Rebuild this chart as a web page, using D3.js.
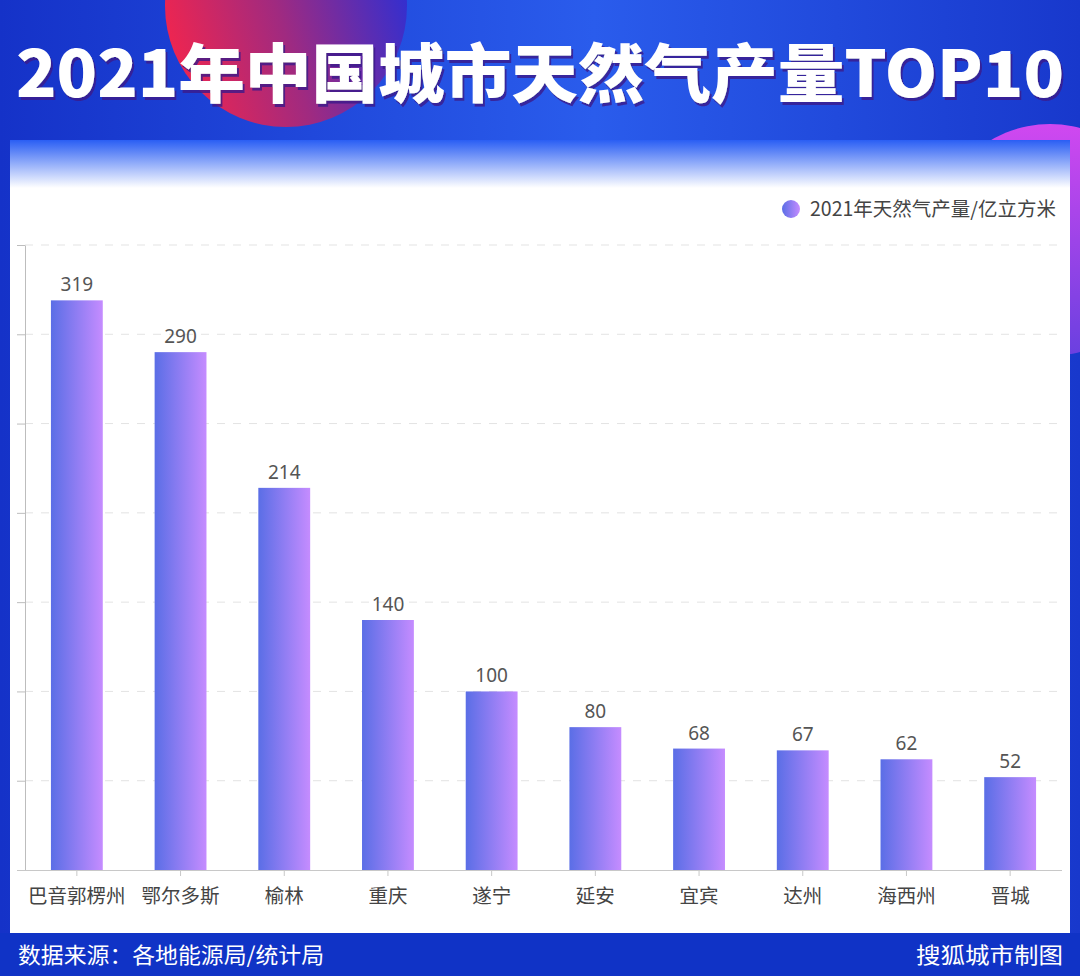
<!DOCTYPE html>
<html><head><meta charset="utf-8">
<script src="https://cdn.jsdelivr.net/npm/d3@7"></script>
<style>html,body{margin:0;padding:0;background:#1434c6;}svg{display:block;}</style>
</head><body>
<script>
const categories = ["巴音郭楞州","鄂尔多斯","榆林","重庆","遂宁","延安","宜宾","达州","海西州","晋城"];
const values = [319,290,214,140,100,80,68,67,62,52];
const yTicks = [0,50,100,150,200,250,300,350];
const title = "2021年中国城市天然气产量TOP10";
const legendLabel = "2021年天然气产量/亿立方米";
const sourceText = "数据来源：各地能源局/统计局";
const creditText = "搜狐城市制图";

(function(){
const W = 1080, H = 976;
const svg = d3.select("body").append("svg").attr("width", W).attr("height", H);
const defs = svg.append("defs");

const bg = defs.append("linearGradient").attr("id","bg").attr("x1",0).attr("y1",0).attr("x2",1).attr("y2",0);
bg.append("stop").attr("offset","0").attr("stop-color","#1532c8");
bg.append("stop").attr("offset","0.55").attr("stop-color","#2a5cec");
bg.append("stop").attr("offset","1").attr("stop-color","#1838cc");

const red = defs.append("linearGradient").attr("id","redc").attr("x1",0).attr("y1",0.6).attr("x2",1).attr("y2",0.3);
red.append("stop").attr("offset","0").attr("stop-color","#ee2550");
red.append("stop").attr("offset","0.45").attr("stop-color","#a02a80");
red.append("stop").attr("offset","1").attr("stop-color","#2a2fd6");

const mag = defs.append("linearGradient").attr("id","magc").attr("x1",0).attr("y1",0).attr("x2",0).attr("y2",1);
mag.append("stop").attr("offset","0").attr("stop-color","#d048f0");
mag.append("stop").attr("offset","1").attr("stop-color","#6a40e0");

const panelTop = defs.append("linearGradient").attr("id","ptop").attr("x1",0).attr("y1",0).attr("x2",0).attr("y2",1);
panelTop.append("stop").attr("offset","0").attr("stop-color","#2a5ef4");
panelTop.append("stop").attr("offset","1").attr("stop-color","#ffffff");

const barG = defs.append("linearGradient").attr("id","barg").attr("x1",0).attr("y1",0).attr("x2",1).attr("y2",0);
barG.append("stop").attr("offset","0").attr("stop-color","#5a6ee6");
barG.append("stop").attr("offset","1").attr("stop-color","#c58cff");

const shadow = defs.append("filter").attr("id","tshadow").attr("x","-5%").attr("y","-20%").attr("width","110%").attr("height","150%");
shadow.append("feDropShadow").attr("dx",2).attr("dy",3).attr("stdDeviation",0.5).attr("flood-color","#3a1f8a").attr("flood-opacity",0.8);

// background
svg.append("rect").attr("width",W).attr("height",H).attr("fill","url(#bg)");
svg.append("circle").attr("cx",286).attr("cy",6).attr("r",121).attr("fill","url(#redc)");
svg.append("circle").attr("cx",1050).attr("cy",240).attr("r",116).attr("fill","url(#magc)");
svg.append("rect").attr("x",0).attr("y",933).attr("width",W).attr("height",43).attr("fill","#1033c6");

// title
svg.append("text").attr("x",540).attr("y",97).attr("text-anchor","middle")
  .attr("font-family","'Noto Sans CJK SC', sans-serif").attr("font-weight",900)
  .attr("font-size",64).attr("fill","#ffffff").attr("filter","url(#tshadow)")
  .attr("textLength",1048).attr("lengthAdjust","spacingAndGlyphs")
  .text(title);

// panel
svg.append("rect").attr("x",10).attr("y",140).attr("width",1060).attr("height",793).attr("fill","#ffffff");
svg.append("rect").attr("x",10).attr("y",140).attr("width",1060).attr("height",48).attr("fill","url(#ptop)");

// footer text
svg.append("text").attr("x",18).attr("y",963).attr("font-family","'Noto Sans CJK SC', sans-serif")
  .attr("font-size",22).attr("fill","#ffffff").attr("textLength",306).attr("lengthAdjust","spacingAndGlyphs").text(sourceText);
svg.append("text").attr("x",1063).attr("y",963).attr("text-anchor","end").attr("font-family","'Noto Sans CJK SC', sans-serif")
  .attr("font-size",22).attr("fill","#ffffff").attr("textLength",147).attr("lengthAdjust","spacingAndGlyphs").text(creditText);

// legend
svg.append("circle").attr("cx",791).attr("cy",209).attr("r",9).attr("fill","url(#barg)");
svg.append("text").attr("x",810).attr("y",216).attr("font-family","'Noto Sans CJK SC', sans-serif")
  .attr("font-size",19.5).attr("fill","#444").text(legendLabel);

// chart
const mL = 25, mR = 1062, mT = 245, mB = 870;
const x = d3.scaleBand().domain(categories).range([mL,mR]).paddingInner(0.5).paddingOuter(0.25);
const y = d3.scaleLinear().domain([0,350]).range([mB,mT]);

// grid
svg.append("g").selectAll("line").data(yTicks.filter(t=>t>0)).join("line")
  .attr("x1",mL).attr("x2",mR).attr("y1",d=>y(d)).attr("y2",d=>y(d))
  .attr("stroke","#e3e3e3").attr("stroke-width",1).attr("stroke-dasharray","8,8");

// y axis
const yAxis = svg.append("g").attr("transform",`translate(${mL},0)`)
  .call(d3.axisLeft(y).tickValues(yTicks).tickSize(8).tickSizeOuter(0).tickFormat(""));
yAxis.selectAll("path,line").attr("stroke","#bdbdbd");

// x axis
const xAxis = svg.append("g").attr("transform",`translate(0,${mB})`)
  .call(d3.axisBottom(x).tickSize(6).tickSizeOuter(0).tickPadding(10));
xAxis.select(".domain").attr("stroke","#c8c8c8").attr("d",`M${mL-8},0.5H${mR}`);
xAxis.selectAll(".tick line").attr("stroke","#c8c8c8");
xAxis.selectAll(".tick text").attr("font-family","'Noto Sans CJK SC', sans-serif")
  .attr("font-size",19.5).attr("fill","#444").attr("dy","0.85em");

// bars
svg.append("g").selectAll("rect").data(values).join("rect")
  .attr("x",(d,i)=>x(categories[i])).attr("width",x.bandwidth())
  .attr("y",d=>y(d)).attr("height",d=>mB-y(d)).attr("fill","url(#barg)");

svg.append("g").selectAll("text").data(values).join("text")
  .attr("x",(d,i)=>x(categories[i])+x.bandwidth()/2).attr("y",d=>y(d)-9)
  .attr("text-anchor","middle").attr("font-family","'Noto Sans', 'Noto Sans CJK SC', sans-serif")
  .attr("font-size",19).attr("fill","#555").text(d=>d);
})();
</script>
</body></html>
